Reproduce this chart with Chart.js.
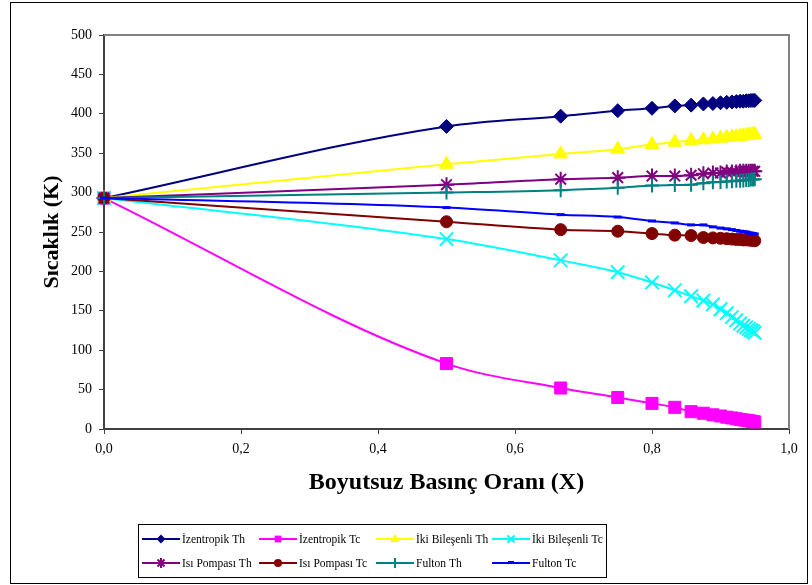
<!DOCTYPE html>
<html><head><meta charset="utf-8">
<script src="https://cdn.jsdelivr.net/npm/chart.js@4/dist/chart.umd.min.js"></script>
<style>html,body{margin:0;padding:0;background:#fff}#wrap{width:812px;height:585px;position:relative}</style>
</head><body><div id="wrap"><canvas id="c" width="812" height="585"></canvas></div>
<script>
// X values (dimensionless pressure ratio)
const xValues = [0, 0.5, 0.6667, 0.75, 0.8, 0.8333, 0.8571, 0.875, 0.8889, 0.9, 0.9091, 0.9167, 0.9231, 0.9286, 0.9333, 0.9375, 0.9412, 0.9444, 0.9474, 0.95];
// Series values (K)
const izentropikTh = [293, 384, 397, 404, 407, 410, 411, 412.5, 413, 414, 414.5, 415, 415.5, 416, 416, 416.5, 416.5, 417, 417, 417];
const izentropikTc = [293, 83, 52, 40, 32.5, 27.5, 22, 20, 18, 16.5, 15, 14, 13, 12, 11.5, 11, 10.5, 10, 9.5, 9];
const ikiTh = [293, 336, 349, 355, 361, 364, 366, 367, 368, 369, 370, 370.5, 371, 371.5, 372, 372.5, 373, 373, 373.5, 374];
const ikiTc = [293, 241, 214, 199, 186, 176, 168.5, 163, 158, 152, 147, 142, 138, 134, 131, 129, 127, 125.5, 124, 122];
const isiTh = [293, 310, 317, 319, 321, 321, 322, 324, 325, 325, 326, 326, 326, 327, 327, 327, 327, 327, 327, 327];
const isiTc = [293, 263, 253, 251, 248, 246, 245.5, 243, 242.5, 242, 241.5, 241, 240.5, 240.5, 240, 240, 240, 239.5, 239.5, 239];
const fultonTh = [293, 300, 303, 306, 309, 309.5, 310, 312, 313, 313.5, 314, 314.5, 315, 315, 315.5, 316, 316, 316.5, 316.5, 317];
const fultonTc = [293, 281, 272, 269, 264, 261.5, 259, 259, 256.5, 255, 254, 253, 252, 251, 250.5, 250, 249, 248.5, 248, 247.5];

const seriesLabels = ['İzentropik Th','İzentropik Tc','İki Bileşenli Th','İki Bileşenli Tc','Isı Pompası Th','Isı Pompası Tc','Fulton Th','Fulton Tc'];
const seriesValues = [izentropikTh, izentropikTc, ikiTh, ikiTc, isiTh, isiTc, fultonTh, fultonTc];
const xTitle = 'Boyutsuz Basınç Oranı (X)';
const yTitle = 'Sıcaklık (K)';

const colors = ['#000080','#FF00FF','#FFFF00','#00FFFF','#800080','#800000','#008080','#0000FF'];
const styles = ['rectRot','rect','triangle','crossRot','star','circle','cross','line'];
const radii = [7, 8.5, 8, 9.5, 7.5, 6, 7, 4];
const pbw = [1, 1, 1, 2, 2, 1, 2, 3];
const legendR = [4.5, 4.5, 5, 5, 5, 4, 5, 3];

const FONT = '"Liberation Serif", "Times New Roman", serif';
Chart.defaults.font.family = FONT;
Chart.defaults.color = '#000';

function drawMarker(ctx, style, x, y, r, color){
  ctx.save();
  ctx.fillStyle = color; ctx.strokeStyle = color; ctx.lineWidth = 2;
  ctx.beginPath();
  switch(style){
    case 'rectRot': ctx.moveTo(x, y-r); ctx.lineTo(x+r, y); ctx.lineTo(x, y+r); ctx.lineTo(x-r, y); ctx.closePath(); ctx.fill(); break;
    case 'rect': ctx.rect(x-r*0.75, y-r*0.75, r*1.5, r*1.5); ctx.fill(); break;
    case 'triangle': ctx.moveTo(x, y-r); ctx.lineTo(x+r*0.9, y+r*0.6); ctx.lineTo(x-r*0.9, y+r*0.6); ctx.closePath(); ctx.fill(); break;
    case 'crossRot': ctx.moveTo(x-r*0.7,y-r*0.7); ctx.lineTo(x+r*0.7,y+r*0.7); ctx.moveTo(x+r*0.7,y-r*0.7); ctx.lineTo(x-r*0.7,y+r*0.7); ctx.stroke(); break;
    case 'star': ctx.moveTo(x-r*0.7,y-r*0.7); ctx.lineTo(x+r*0.7,y+r*0.7); ctx.moveTo(x+r*0.7,y-r*0.7); ctx.lineTo(x-r*0.7,y+r*0.7); ctx.moveTo(x,y-r); ctx.lineTo(x,y+r); ctx.stroke(); break;
    case 'circle': ctx.arc(x, y, r, 0, Math.PI*2); ctx.fill(); break;
    case 'cross': ctx.moveTo(x,y-r); ctx.lineTo(x,y+r); ctx.stroke(); break;
    case 'line': ctx.fillRect(x-r, y-2, 2*r, 3); break;
  }
  ctx.restore();
}

const framePlugin = {
  id: 'frame',
  beforeDatasetsDraw(chart){
    const {ctx, chartArea:{left,right,top,bottom}} = chart;
    ctx.save();
    ctx.strokeStyle = '#808080'; ctx.lineWidth = 2;
    ctx.beginPath(); ctx.moveTo(left, top); ctx.lineTo(right, top); ctx.lineTo(right, bottom); ctx.stroke();
    ctx.restore();
  },
  afterDraw(chart){
    const ctx = chart.ctx;
    ctx.save();
    ctx.strokeStyle = '#000'; ctx.lineWidth = 1;
    ctx.strokeRect(10.5, 2.5, 797, 581);
    ctx.strokeRect(138.5, 524.5, 468, 53);
    const colX = [142, 259, 376, 492], rowY = [539, 563];
    chart.data.datasets.forEach((ds, i) => {
      const x0 = colX[i % 4], y = rowY[Math.floor(i / 4)];
      ctx.strokeStyle = ds.borderColor; ctx.lineWidth = 2;
      ctx.beginPath(); ctx.moveTo(x0, y); ctx.lineTo(x0 + 38, y); ctx.stroke();
      drawMarker(ctx, ds.pointStyle, x0 + 19, y, legendR[i], ds.borderColor);
      ctx.fillStyle = '#000'; ctx.font = '11.5px ' + FONT;
      ctx.textBaseline = 'middle'; ctx.textAlign = 'left';
      ctx.fillText(ds.label, x0 + 40, y + 1);
    });
    ctx.restore();
  }
};

const datasets = seriesLabels.map((label, i) => ({
  label,
  data: xValues.map((x, j) => ({x, y: seriesValues[i][j]})),
  borderColor: colors[i],
  backgroundColor: colors[i],
  pointBackgroundColor: colors[i],
  pointBorderColor: colors[i],
  pointStyle: styles[i],
  pointRadius: radii[i],
  pointBorderWidth: pbw[i],
  borderWidth: 2,
  cubicInterpolationMode: 'monotone',
  clip: false,
  order: 8 - i
}));

new Chart(document.getElementById('c'), {
  type: 'line',
  data: { datasets },
  plugins: [framePlugin],
  options: {
    responsive: false,
    devicePixelRatio: 1,
    animation: false,
    layout: { padding: { left: 39, right: 23, top: 35, bottom: 88 } },
    plugins: { legend: { display: false }, tooltip: { enabled: false } },
    scales: {
      x: {
        type: 'linear', min: 0, max: 1,
        ticks: { stepSize: 0.2, padding: 7, font: { size: 14 }, color: '#000',
          callback: v => v.toFixed(1).replace('.', ',') },
        grid: { drawOnChartArea: false, drawTicks: true, tickLength: 5, color: '#404040' },
        border: { color: '#404040', width: 2 },
        title: { display: true, text: xTitle, font: { size: 24, weight: 'bold' }, color: '#000', padding: { top: 0, bottom: 0 } },
        afterFit: s => { s.height = 68; }
      },
      y: {
        min: 0, max: 500,
        ticks: { stepSize: 50, padding: 7, font: { size: 14 }, color: '#000' },
        grid: { drawOnChartArea: false, drawTicks: true, tickLength: 5, color: '#404040' },
        border: { color: '#404040', width: 2 },
        title: { display: true, text: yTitle, font: { size: 22, weight: 'bold' }, color: '#000', padding: { top: 0, bottom: 0 } },
        afterFit: s => { s.width = 65; }
      }
    }
  }
});
</script></body></html>
